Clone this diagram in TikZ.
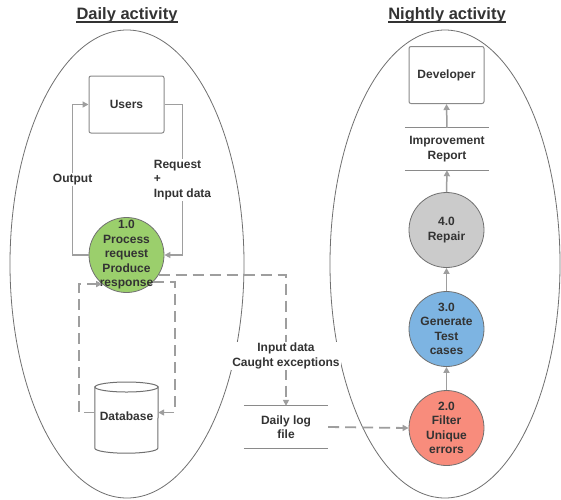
\documentclass[tikz,border=0pt]{standalone}
\usepackage{fontspec}
\setmainfont{Liberation Sans}
\usetikzlibrary{arrows.meta}
\definecolor{txt}{HTML}{333333}
\definecolor{ellc}{HTML}{707070}
\definecolor{boxc}{HTML}{8A8A8A}
\definecolor{circc}{HTML}{707070}
\definecolor{linec}{HTML}{9E9E9E}
\definecolor{greenf}{HTML}{9BCF6C}
\definecolor{bluef}{HTML}{7DB4E2}
\definecolor{redf}{HTML}{F88C7C}
\definecolor{grayf}{HTML}{CBCBCB}
\begin{document}
\begin{tikzpicture}[x=1pt,y=-1pt,
  ell/.style={draw=ellc, line width=0.8pt},
  proc/.style={circle, draw=circc, line width=0.8pt, minimum size=75pt, inner sep=0pt},
  ctext/.style={font=\fontsize{12}{14.5}\selectfont\bfseries, text=txt, align=center, inner sep=0pt},
  entity/.style={draw=boxc, line width=1pt, rounded corners=2pt, minimum width=75pt, minimum height=57pt, font=\fontsize{12}{14.5}\selectfont\bfseries, text=txt},
  store/.style={minimum width=84pt, minimum height=42pt, inner sep=0pt, font=\fontsize{12}{14.5}\selectfont\bfseries, text=txt, align=center},
  conn/.style={draw=linec, line width=1.5pt, -{Triangle[length=6pt,width=6pt]}},
  dconn/.style={conn, line width=1.8pt, dash pattern=on 11pt off 6pt},
  lbl/.style={fill=white, inner sep=1pt, font=\fontsize{12}{14.5}\selectfont\bfseries, text=txt},
  title/.style={font=\fontsize{16.5}{18}\selectfont\bfseries, text=txt, inner sep=0pt, anchor=base}
]
\useasboundingbox (0,0) rectangle (561,499);
\fill[white] (0,0) rectangle (561,499);

% titles
\node[title] (t1) at (127,19.5) {Daily activity};
\node[title] (t2) at (447,19.5) {Nightly activity};
\draw[txt, line width=1.2pt] ([yshift=-2.5pt]t1.base west) -- ([yshift=-2.5pt]t1.base east);
\draw[txt, line width=1.2pt] ([yshift=-2.5pt]t2.base west) -- ([yshift=-2.5pt]t2.base east);

% ellipses
\draw[ell] (127,264) ellipse [x radius=117, y radius=234];
\draw[ell] (445,264) ellipse [x radius=115, y radius=234];

% left side nodes
\node[entity] (users) at (126.5,104.5) {Users};
\node[proc, fill=greenf] (p1) at (126.5,255) {};
\node[ctext] (p1t) at (p1) {1.0\\Process\\request\\Produce\\response};

% database cylinder
\node[minimum width=63pt, minimum height=61pt, inner sep=0pt, font=\fontsize{12}{14.5}\selectfont\bfseries, text=txt] (db) at (126.5,412.5) {};
\node[font=\fontsize{12}{14.5}\selectfont\bfseries, text=txt, inner sep=0pt] (dbt) at (126.5,416.5) {Database};
\draw[draw=circc, line width=1pt, fill=white]
  (db.north west) ++(0,5) -- ([yshift=-5pt]db.south west) arc[start angle=180, end angle=360, x radius=31.5pt, y radius=5pt]
  -- ([yshift=-5pt]db.north east) -- cycle;
\draw[draw=circc, line width=1pt, fill=white] (126.5,387) ellipse [x radius=31.5, y radius=5];
\node[font=\fontsize{12}{14.5}\selectfont\bfseries, text=txt, inner sep=0pt] at (dbt) {Database};

% log file store
\node[store] (log) at (286,427) {Daily log\\file};
\draw[boxc, line width=1pt] (log.north west) -- (log.north east);
\draw[boxc, line width=1pt] (log.south west) -- (log.south east);

% right side nodes
\node[entity] (dev) at (446.5,75) {Developer};
\node[store] (rep) at (447,149) {Improvement\\Report};
\draw[boxc, line width=1pt] (rep.north west) -- (rep.north east);
\draw[boxc, line width=1pt] (rep.south west) -- (rep.south east);
\node[proc, fill=grayf] (p4) at (446.5,230) {};
\node[ctext] (p4t) at (p4) {4.0\\Repair};
\node[proc, fill=bluef] (p3) at (446.5,329) {};
\node[ctext] (p3t) at (p3) {3.0\\Generate\\Test\\cases};
\node[proc, fill=redf] (p2) at (446.5,428) {};
\node[ctext] (p2t) at (p2) {2.0\\Filter\\Unique\\errors};

% connectors left
\draw[conn] (p1.west) -- ++(-16,0) |- (users.west)
  node[lbl, pos=0.25] (outl) {Output};
\draw[conn] (users.east) -- ++(18,0) |- (p1.east)
  node[lbl, pos=0.25, align=left] (reql) {Request\\+\\Input data};
\draw[dconn] (p1.-45) -- ++(21.5,0) |- (db.east);
\draw[dconn] (db.west) -- ++(-16,0) |- (p1.230);
\draw[dconn] (p1.-32) -| (log.north)
  node[lbl, pos=0.81, align=center] (logl) {Input data\\Caught exceptions};
\draw[dconn] (log.east) -- (p2.west);

% connectors right
\draw[conn] (p2.north) -- (p3.south);
\draw[conn] (p3.north) -- (p4.south);
\draw[conn] (p4.north) -- (rep.south);
\draw[conn] (rep.north) -- (dev.south);
\end{tikzpicture}
\end{document}
